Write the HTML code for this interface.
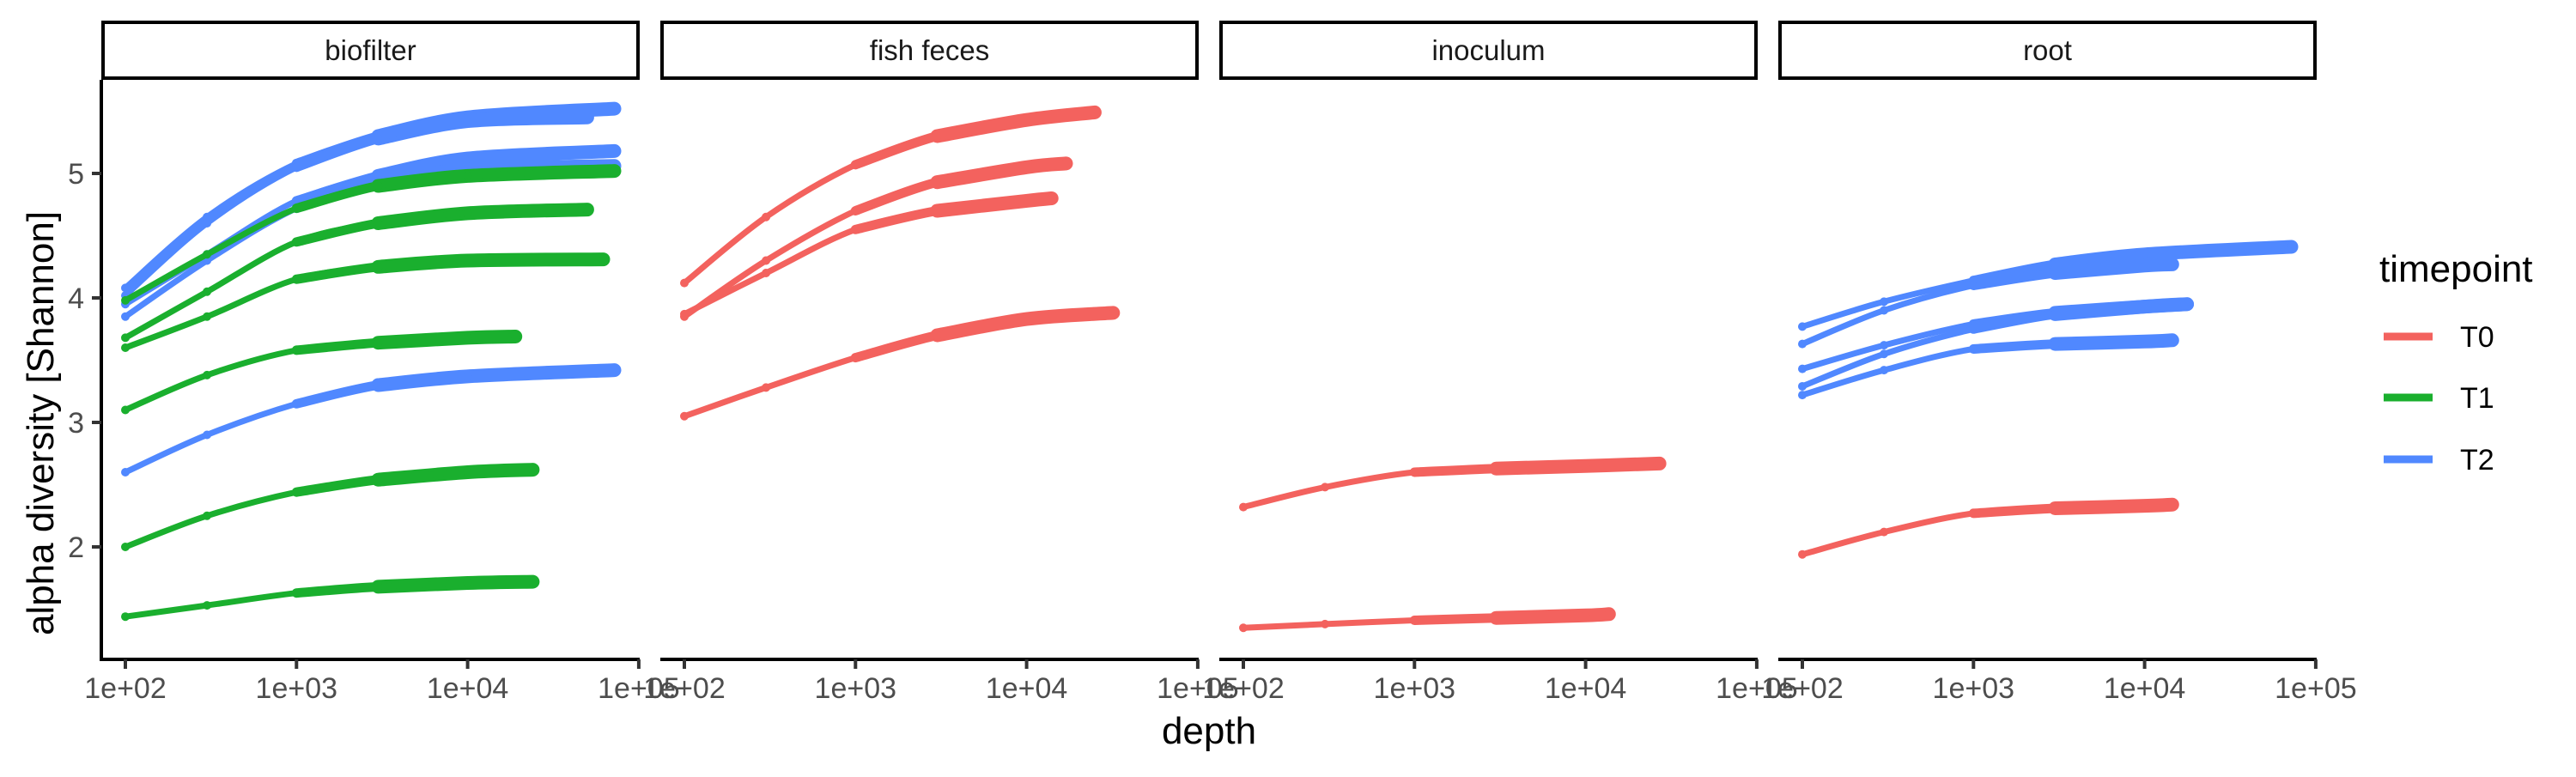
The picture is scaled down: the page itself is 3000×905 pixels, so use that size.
<!DOCTYPE html>
<html><head><meta charset="utf-8"><style>
html,body{margin:0;padding:0;background:#fff;}
svg text{font-family:"Liberation Sans",Arial,sans-serif;}
</style></head><body>
<svg id="chart" width="3000" height="900" viewBox="0 0 3000 900" xmlns="http://www.w3.org/2000/svg">
<rect x="0" y="0" width="3000" height="900" fill="#fff"/>
<g id="panels"></g>
<text x="0" y="0" font-size="44" text-anchor="middle" fill="#000" transform="translate(62,493) rotate(-90)">alpha diversity [Shannon]</text>
<text x="1408" y="866" font-size="44" text-anchor="middle" fill="#000">depth</text>
<g>
<text x="2771" y="328" font-size="44" fill="#000">timepoint</text>
<line x1="2776" y1="392" x2="2833" y2="392" stroke="#F3625E" stroke-width="9"/>
<text x="2865" y="404" font-size="34" fill="#000">T0</text>
<line x1="2776" y1="463" x2="2833" y2="463" stroke="#1AAF2E" stroke-width="9"/>
<text x="2865" y="475" font-size="34" fill="#000">T1</text>
<line x1="2776" y1="535" x2="2833" y2="535" stroke="#5088FF" stroke-width="9"/>
<text x="2865" y="547" font-size="34" fill="#000">T2</text>
</g>
</svg>
<script>
const panelNames = ["biofilter", "fish feces", "inoculum", "root"];
const xTickLabels = ["1e+02", "1e+03", "1e+04", "1e+05"];
const xTickValues = [100, 1000, 10000, 100000];
const yTickValues = [2, 3, 4, 5];
const anchorDepths = [100, 300, 1000, 3000, 10000];
const seriesPanel = [0,0,0,0,0,0,0,0,0,0,0, 1,1,1,1, 2,2, 3,3,3,3,3,3];
const seriesTime  = [2,2,2,2,1,1,1,1,2,1,1, 0,0,0,0, 0,0, 0,2,2,2,2,2];
const seriesEndDepth = [72000,50000,72000,72000,72000,50000,62000,19000,72000,24000,24000,
  25000,17000,14000,32000, 27000,13700, 14500,72000,14500,17700,14500,17700];
const seriesValues = [
  [4.08,4.65,5.08,5.30,5.45,5.52],
  [4.02,4.60,5.05,5.28,5.42,5.45],
  [3.95,4.35,4.78,4.98,5.12,5.18],
  [3.85,4.30,4.72,4.93,5.03,5.06],
  [3.98,4.35,4.72,4.90,4.98,5.02],
  [3.68,4.05,4.45,4.60,4.68,4.71],
  [3.60,3.85,4.15,4.25,4.30,4.31],
  [3.10,3.38,3.58,3.64,3.68,3.69],
  [2.60,2.90,3.15,3.30,3.37,3.42],
  [2.00,2.25,2.44,2.54,2.60,2.62],
  [1.44,1.53,1.63,1.68,1.71,1.72],
  [4.12,4.65,5.07,5.30,5.43,5.49],
  [3.85,4.30,4.70,4.93,5.05,5.08],
  [3.87,4.20,4.55,4.70,4.78,4.80],
  [3.05,3.28,3.52,3.70,3.83,3.88],
  [2.32,2.48,2.60,2.63,2.65,2.67],
  [1.35,1.38,1.41,1.43,1.45,1.46],
  [1.94,2.12,2.27,2.31,2.33,2.34],
  [3.77,3.97,4.14,4.27,4.35,4.41],
  [3.63,3.90,4.10,4.20,4.26,4.27],
  [3.43,3.62,3.79,3.88,3.93,3.95],
  [3.22,3.42,3.59,3.63,3.65,3.66],
  [3.29,3.55,3.75,3.87,3.93,3.95]
];
const timeColors = ["#F3625E", "#1AAF2E", "#5088FF"];

const NS = "http://www.w3.org/2000/svg";
const PANEL_LEFT = 118, PANEL_STRIDE = 651, PANEL_W = 627;
const PLOT_TOP = 93, PLOT_BOTTOM = 768;
function xScale(p, d) { return PANEL_LEFT + p * PANEL_STRIDE + 28 + (Math.log10(d) - 2) * 199.3; }
function yScale(v) { return 202 + (5 - v) * 145; }
function mk(tag, attrs) { const e = document.createElementNS(NS, tag); for (const k in attrs) e.setAttribute(k, attrs[k]); return e; }
function smoothPath(pts) {
  let d = "M" + pts[0][0].toFixed(1) + "," + pts[0][1].toFixed(1);
  for (let i = 0; i < pts.length - 1; i++) {
    const p0 = pts[Math.max(0, i - 1)], p1 = pts[i], p2 = pts[i + 1], p3 = pts[Math.min(pts.length - 1, i + 2)];
    const c1x = p1[0] + (p2[0] - p0[0]) / 6, c1y = p1[1] + (p2[1] - p0[1]) / 6;
    const c2x = p2[0] - (p3[0] - p1[0]) / 6, c2y = p2[1] - (p3[1] - p1[1]) / 6;
    d += " C" + c1x.toFixed(1) + "," + c1y.toFixed(1) + " " + c2x.toFixed(1) + "," + c2y.toFixed(1) + " " + p2[0].toFixed(1) + "," + p2[1].toFixed(1);
  }
  return d;
}
const root = document.getElementById("panels");
panelNames.forEach((name, p) => {
  const left = PANEL_LEFT + p * PANEL_STRIDE;
  const g = mk("g", {});
  
  
  const strip = mk("rect", {x: left + 2, y: 26, width: PANEL_W - 4, height: 65, fill: "#fff", stroke: "#000", "stroke-width": 4});
  
  
  g.appendChild(strip);
  const st = mk("text", {x: left + PANEL_W / 2, y: 70, "font-size": 33, "text-anchor": "middle", fill: "#1a1a1a"});
  st.textContent = name;
  
  
  g.appendChild(st);
  const ax = mk("line", {x1: left, y1: PLOT_BOTTOM, x2: left + PANEL_W, y2: PLOT_BOTTOM, stroke: "#000", "stroke-width": 4});
  
  
  g.appendChild(ax);
  xTickValues.forEach((tv, i) => {
    const x = xScale(p, tv);
    const t = mk("line", {x1: x, y1: PLOT_BOTTOM, x2: x, y2: PLOT_BOTTOM + 11, stroke: "#333", "stroke-width": 4});
    
    
    g.appendChild(t);
    const l = mk("text", {x: x, y: 813, "font-size": 34, "text-anchor": "middle", fill: "#4d4d4d"});
    l.textContent = xTickLabels[i];
    
    
    g.appendChild(l);
  });
  if (p === 0) {
    const ya = mk("line", {x1: left, y1: PLOT_TOP, x2: left, y2: PLOT_BOTTOM + 2, stroke: "#000", "stroke-width": 4});
    
    
    g.appendChild(ya);
    yTickValues.forEach(v => {
      const y = yScale(v);
      const t = mk("line", {x1: left - 11, y1: y, x2: left, y2: y, stroke: "#333", "stroke-width": 4});
      
      
      g.appendChild(t);
      const l = mk("text", {x: left - 20, y: y + 12, "font-size": 34, "text-anchor": "end", fill: "#4d4d4d"});
      l.textContent = String(v);
      
      
      g.appendChild(l);
    });
  }
  root.appendChild(g);
});
seriesValues.forEach((vals, s) => {
  const p = seriesPanel[s], col = timeColors[seriesTime[s]];
  const depths = anchorDepths.concat([seriesEndDepth[s]]);
  const pts = vals.map((v, i) => [xScale(p, depths[i]), yScale(v)]);
  const g = mk("g", {});
  
  
  const band1 = mk("path", {d: smoothPath(pts.slice(2)), fill: "none", stroke: col, "stroke-width": 11, "stroke-linecap": "round", "stroke-linejoin": "round"});
  
  
  g.appendChild(band1);
  const band2 = mk("path", {d: smoothPath(pts.slice(3)), fill: "none", stroke: col, "stroke-width": 16, "stroke-linecap": "round", "stroke-linejoin": "round"});
  
  
  g.appendChild(band2);
  const line = mk("path", {d: smoothPath(pts), fill: "none", stroke: col, "stroke-width": 7, "stroke-linecap": "butt"});
  
  
  g.appendChild(line);
  pts.forEach((pt, i) => {
    const c = mk("circle", {cx: pt[0], cy: pt[1], r: 5, fill: col});
    
    
    g.appendChild(c);
  });
  root.appendChild(g);
});
</script>
</body></html>
